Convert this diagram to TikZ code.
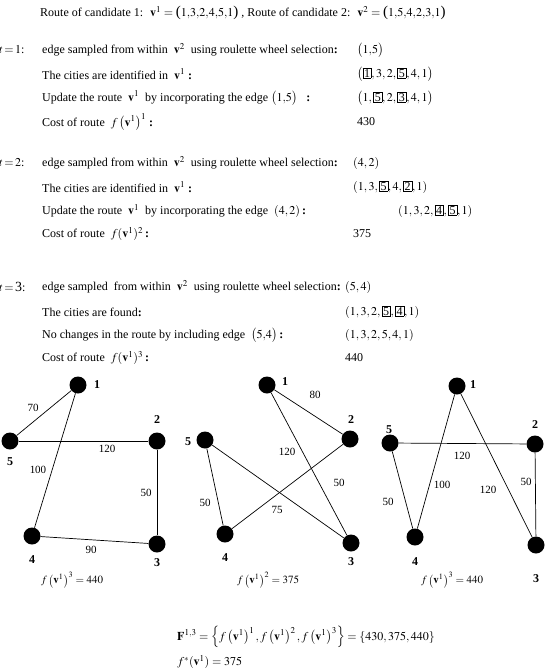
\documentclass[tikz,border=0pt]{standalone}
\usepackage{mathptmx}
\usepackage[no-math]{fontspec}
\setmainfont{Liberation Serif}
\newcommand{\bx}[1]{{\setlength{\fboxsep}{1pt}\fbox{#1}}}
\newcommand{\vb}{\mathbf{v}}
\newcommand{\tupl}[1]{\mbox{\fontsize{15}{15}\selectfont(}#1\mbox{\fontsize{15}{15}\selectfont)}}

\begin{document}
\begin{tikzpicture}[x=1pt, y=-1pt,
    txt/.style={anchor=west, inner sep=0pt, font=\fontsize{12}{14}\selectfont},
    city/.style={circle, fill=black, minimum size=17pt, inner sep=0pt},
    citylbl/.style={font=\fontsize{12}{14}\selectfont\bfseries, inner sep=0pt},
    wlbl/.style={font=\fontsize{11}{13}\selectfont, inner sep=0pt},
    costlbl/.style={font=\fontsize{11}{13}\selectfont, inner sep=0pt},
    edge/.style={line width=0.7pt}]
    \useasboundingbox (0,0) rectangle (547,670);

    % header
    \node[txt] (title) at (40,13) {Route of candidate 1: \ $\vb^1=\tupl{1{,}3{,}2{,}4{,}5{,}1}$ , Route of candidate 2: \ $\vb^2=\tupl{1{,}5{,}4{,}2{,}3{,}1}$};

    % t = 1
    \node[txt] (t1) at (-1,50) {$t\!=\!1$:};
    \node[txt] (e1) at (42,50) {edge sampled from within \ $\vb^2$ \ using roulette wheel selection\textbf{:}};
    \node[txt] (c1) at (42,74) {The cities are identified in \ $\vb^1$ \textbf{:}};
    \node[txt] (u1) at (42,98) {Update the route \ $\vb^1$ \ by incorporating the edge $\bigl(1{,}5\bigr)$ \ \ \textbf{:}};
    \node[txt] (k1) at (42,122) {Cost of route \ $f\,\bigl(\vb^1\bigr)^1$ \textbf{:}};
    \node[txt] (e1v) at (357,50) {$\bigl(1{,}5\bigr)$};
    \node[txt] (c1v) at (357,74) {$\bigl(\bx{1},3,2,\bx{5},4,1\bigr)$};
    \node[txt] (u1v) at (357,98) {$\bigl(1,\bx{5},2,\bx{3},4,1\bigr)$};
    \node[txt] (k1v) at (357,122) {430};

    % t = 2
    \node[txt] (t2) at (-1,163) {$t\!=\!2$:};
    \node[txt] (e2) at (42,163) {edge sampled from within \ $\vb^2$ \ using roulette wheel selection\textbf{:}};
    \node[txt] (c2) at (42,187) {The cities are identified in \ $\vb^1$ \textbf{:}};
    \node[txt] (u2) at (42,211) {Update the route \ $\vb^1$ \ by incorporating the edge \ $(4,2)$\,\textbf{:}};
    \node[txt] (k2) at (42,234) {Cost of route \ $f(\vb^1)^2$\,\textbf{:}};
    \node[txt] (e2v) at (353,163) {$(4,2)$};
    \node[txt] (c2v) at (353,187) {$(1,3,\bx{5},4,\bx{2},1)$};
    \node[txt] (u2v) at (398,211) {$(1,3,2,\bx{4},\bx{5},1)$};
    \node[txt] (k2v) at (353,234) {375};

    % t = 3
    \node[txt] (t3) at (-1,287) {$t\!=\!\mbox{\fontsize{14}{16}\selectfont 3}$:};
    \node[txt] (e3) at (42,287) {edge sampled \ from within \ $\vb^2$ \ using roulette wheel selection\textbf{:}};
    \node[txt] (c3) at (42,312) {The cities are found\textbf{:}};
    \node[txt] (u3) at (42,335) {No changes in the route by including edge \ $\bigl(5{,}4\bigr)$\,\textbf{:}};
    \node[txt] (k3) at (42,358) {Cost of route \ $f(\vb^1)^3$\,\textbf{:}};
    \node[txt] (e3v) at (345,287) {$(5,4)$};
    \node[txt] (c3v) at (345,312) {$(1,3,2,\bx{5},\bx{4},1)$};
    \node[txt] (u3v) at (345,335) {$(1,3,2,5,4,1)$};
    \node[txt] (k3v) at (345,358) {440};

    % graph 1
    \node[city] (ga1) at (78,385) {};
    \node[city] (ga2) at (157,441) {};
    \node[city] (ga3) at (157,544) {};
    \node[city] (ga4) at (32,536) {};
    \node[city] (ga5) at (10,441) {};
    \foreach \a/\b in {1/5,5/2,1/4,2/3,4/3}
        \draw[edge] (ga\a) -- (ga\b);
    \node[citylbl] (la1) at (97,385) {1};
    \node[citylbl] (la2) at (157,420) {2};
    \node[citylbl] (la3) at (157,563) {3};
    \node[citylbl] (la4) at (32,560) {4};
    \node[citylbl] (la5) at (10,462) {5};
    \node[wlbl] (wa15) at (33,408) {70};
    \node[wlbl] (wa52) at (107,449) {120};
    \node[wlbl] (wa14) at (38,470) {100};
    \node[wlbl] (wa23) at (146,493) {50};
    \node[wlbl] (wa43) at (91,550) {90};
    \node[costlbl] (capa) at (72,580) {$f\left(\vb^1\right)^3=440$};

    % graph 2
    \node[city] (gb1) at (267,385) {};
    \node[city] (gb2) at (350,439) {};
    \node[city] (gb3) at (351,543) {};
    \node[city] (gb4) at (225,534) {};
    \node[city] (gb5) at (205,440) {};
    \foreach \a/\b in {1/2,1/3,5/3,4/2,5/4}
        \draw[edge] (gb\a) -- (gb\b);
    \node[citylbl] (lb1) at (285,382) {1};
    \node[citylbl] (lb2) at (351,420) {2};
    \node[citylbl] (lb3) at (351,562) {3};
    \node[citylbl] (lb4) at (225,558) {4};
    \node[citylbl] (lb5) at (188,442) {5};
    \node[wlbl] (wb12) at (315,395) {80};
    \node[wlbl] (wb13) at (339,483) {50};
    \node[wlbl] (wb53) at (277,510) {75};
    \node[wlbl] (wb42) at (287,452) {120};
    \node[wlbl] (wb54) at (205,503) {50};
    \node[costlbl] (capb) at (268,580) {$f\left(\vb^1\right)^2=375$};

    % graph 3
    \node[city] (gc1) at (457,386) {};
    \node[city] (gc2) at (535,444) {};
    \node[city] (gc3) at (536,545) {};
    \node[city] (gc4) at (415,537) {};
    \node[city] (gc5) at (390,443) {};
    \foreach \a/\b in {5/2,1/4,1/3,2/3,5/4}
        \draw[edge] (gc\a) -- (gc\b);
    \node[citylbl] (lc1) at (473,385) {1};
    \node[citylbl] (lc2) at (535,425) {2};
    \node[citylbl] (lc3) at (536,579) {3};
    \node[citylbl] (lc4) at (415,562) {4};
    \node[citylbl] (lc5) at (389,430) {5};
    \node[wlbl] (wc52) at (462,456) {120};
    \node[wlbl] (wc14) at (442,485) {100};
    \node[wlbl] (wc13) at (488,490) {120};
    \node[wlbl] (wc23) at (526,482) {50};
    \node[wlbl] (wc54) at (388,502) {50};
    \node[costlbl] (capc) at (452,580) {$f\left(\vb^1\right)^3=440$};

    % summary
    \node[txt] (F) at (177,637) {$\mathbf{F}^{1,3}=\left\{f\left(\vb^1\right)^1, f\left(\vb^1\right)^2, f\left(\vb^1\right)^3\right\}=\{430,375,440\}$};
    \node[txt] (fstar) at (177,662) {$f^*(\vb^1)=375$};
\end{tikzpicture}
\end{document}
